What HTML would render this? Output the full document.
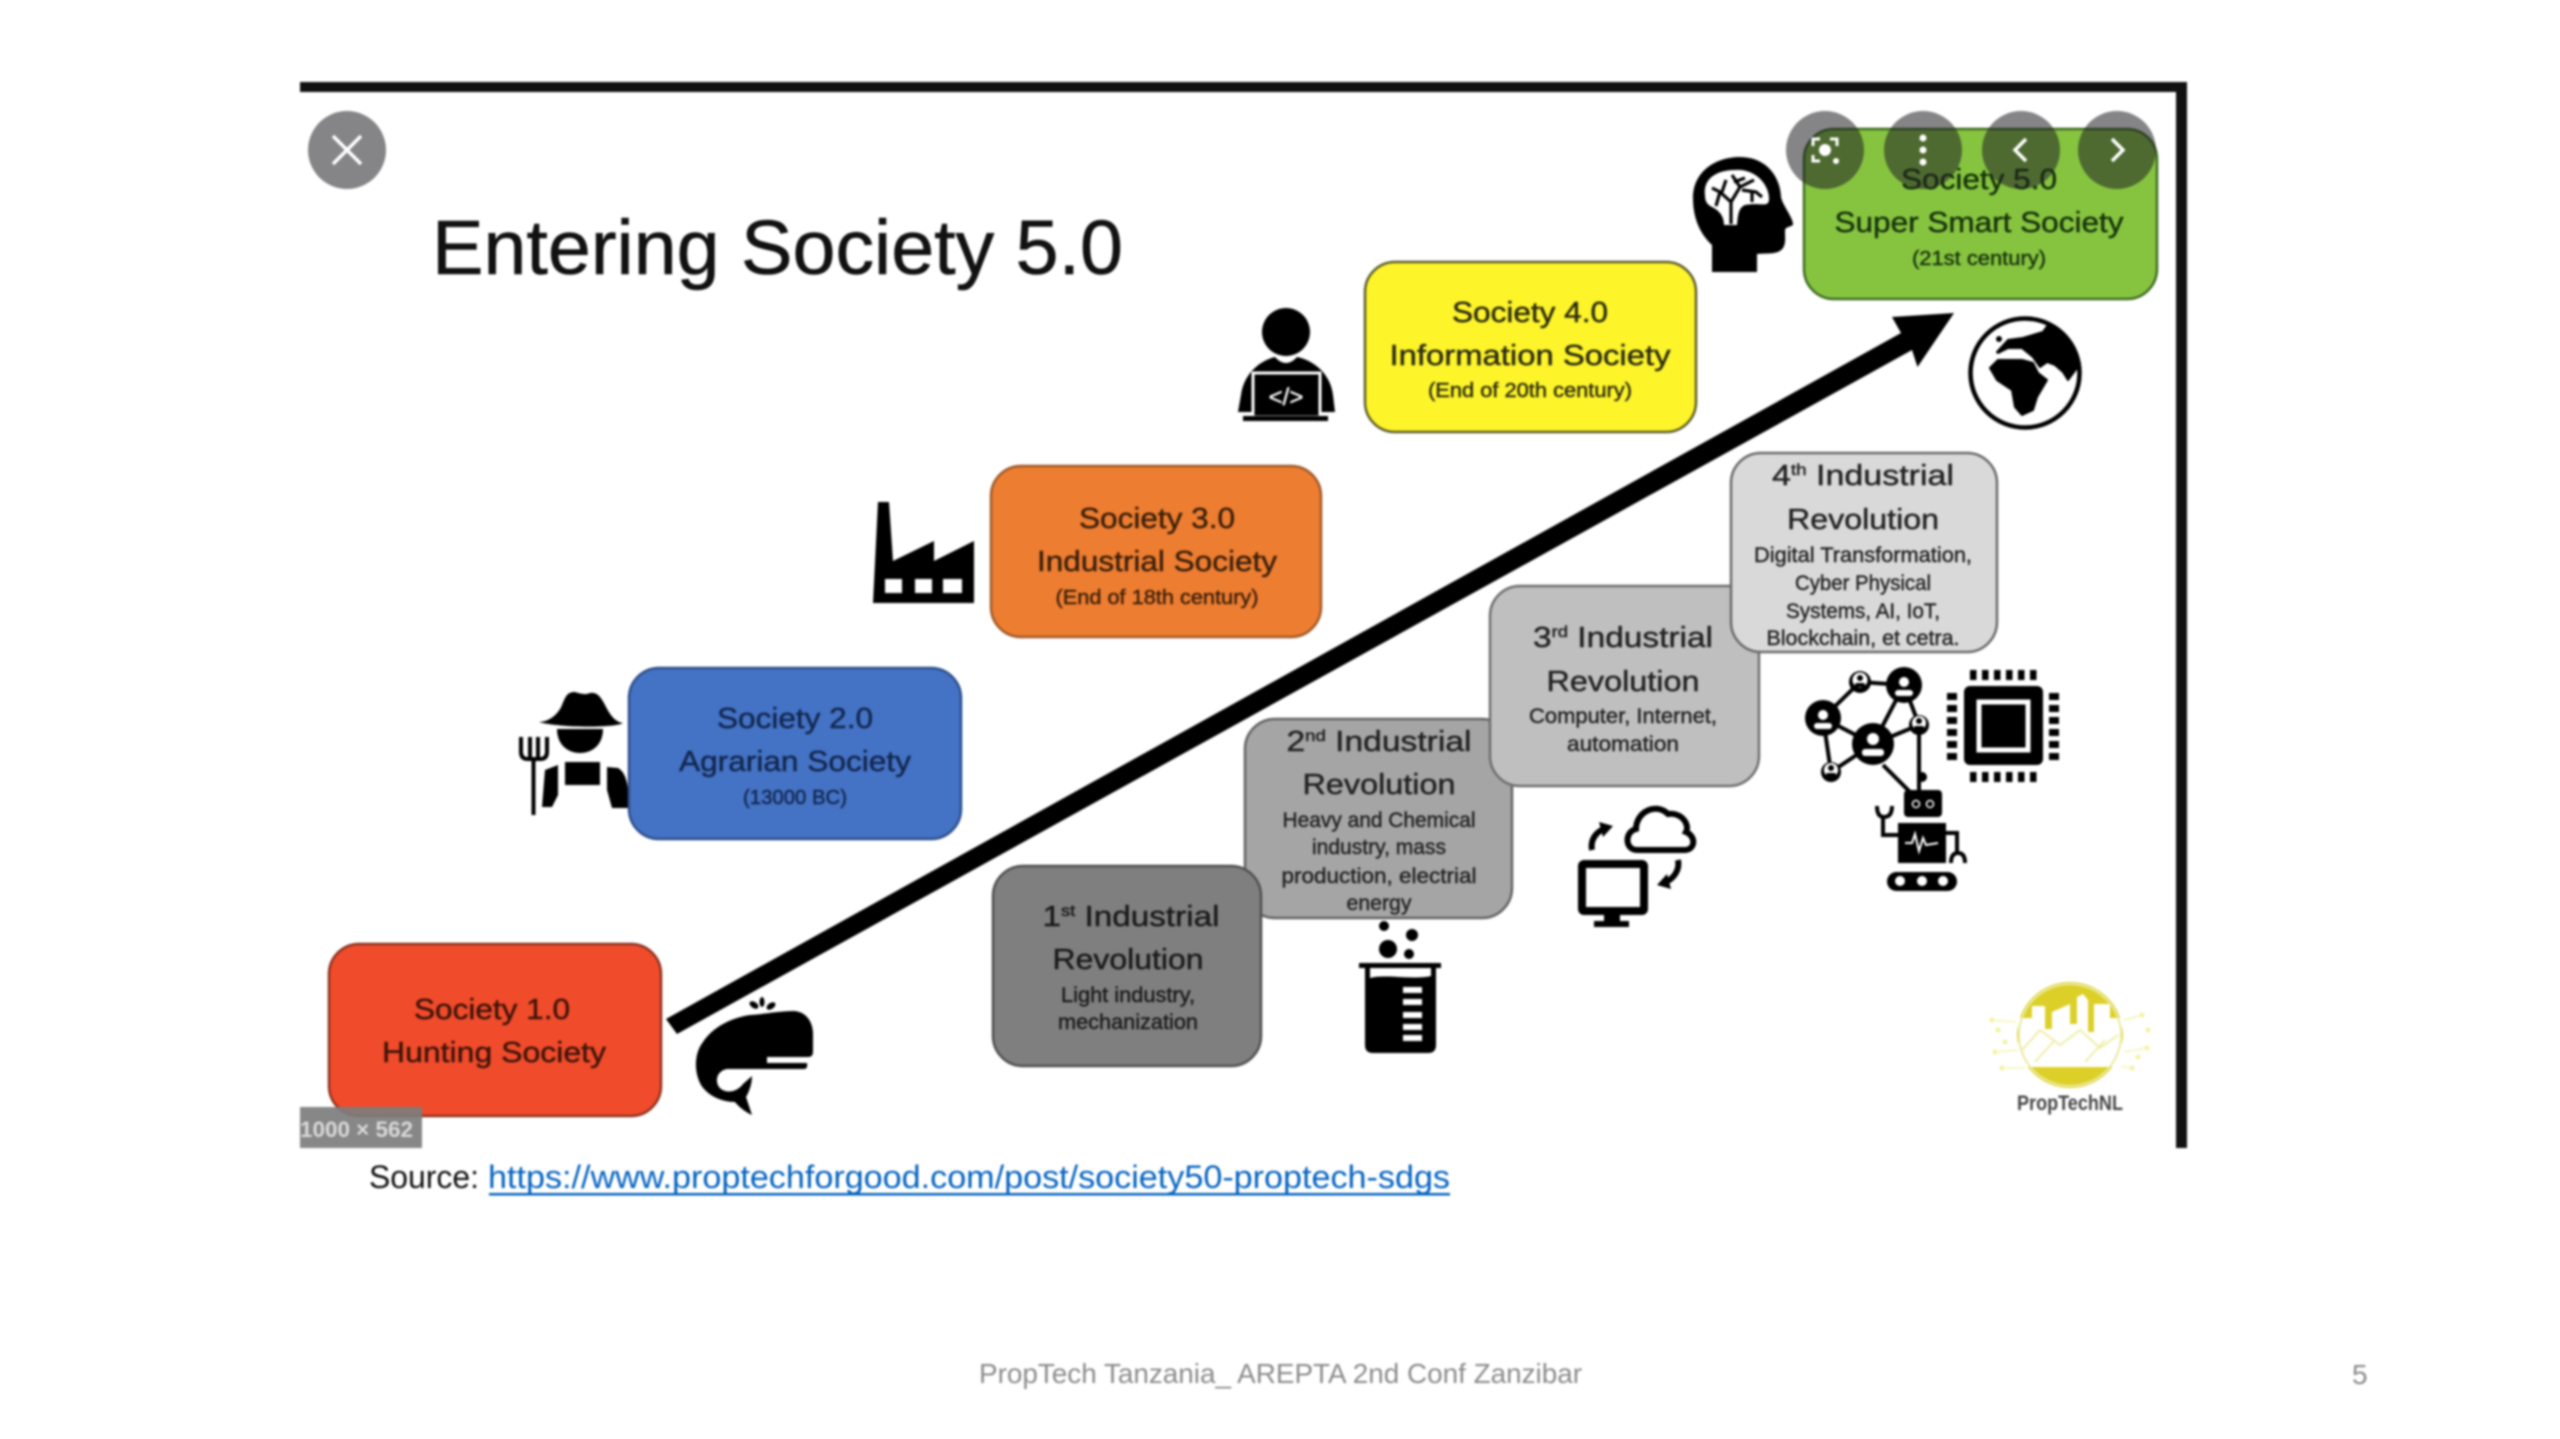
<!DOCTYPE html>
<html lang="en">
<head>
<meta charset="utf-8">
<title>Entering Society 5.0</title>
<style>
html,body{margin:0;padding:0;background:#fff;width:2560px;height:1439px;overflow:hidden}
svg{display:block;position:absolute;left:0;top:0;filter:blur(1.1px)}
text{font-family:"Liberation Sans",sans-serif}
.m{font-size:29px;text-anchor:middle;stroke-width:.45px}
.s{font-size:21px;text-anchor:middle;stroke-width:.4px}
.t{font-size:20px;text-anchor:middle;stroke-width:.4px}
</style>
</head>
<body>
<svg width="2560" height="1439" viewBox="0 0 2560 1439" xmlns="http://www.w3.org/2000/svg">
<rect width="2560" height="1439" fill="#fff"/>

<!-- frame -->
<rect x="300" y="82" width="1887" height="10" fill="#111"/>
<rect x="2176" y="82" width="11" height="1066" fill="#111"/>

<!-- title -->
<text x="432" y="274" font-size="77" fill="#111" stroke="#111" stroke-width=".6" textLength="691" lengthAdjust="spacingAndGlyphs">Entering Society 5.0</text>

<!-- arrow -->
<polygon points="666,1019 677,1034 1912,350 1917.5,367 1954,313 1892,317 1901,333" fill="#000"/>

<!-- farmer icon -->
<g fill="#000">
<path d="M539 722C548 722 558 715 562 705C566 695 568 692 575 692C582 694 585 695 590 693C596 692 600 695 605 705C610 715 615 722 623 723C615 728 560 728 539 722Z"/>
<path d="M557 729L603 729C603 745 592 753 580 753C568 753 557 745 557 729Z"/>
<rect x="565" y="762" width="35" height="23"/>
<path d="M545 770L558 765L558 795L552 807L542 807Z"/>
<path d="M607 767L618 768C625 772 629 782 629 808L612 808L607 790Z"/>
</g>
<path d="M521 737V752Q521 759 528 759H540Q547 759 547 752V737M530 737V759M538 737V759M533.500 759V815" fill="none" stroke="#000" stroke-width="4"/>

<!-- factory -->
<polygon points="873,603 878,502 889,502 893,561 934,541 934,561 974,541 974,603" fill="#000"/>
<g fill="#fff"><rect x="885" y="579" width="17" height="14"/><rect x="915" y="579" width="17" height="14"/><rect x="943" y="579" width="19" height="14"/></g>

<!-- coder -->
<circle cx="1286" cy="332" r="24" fill="#000"/>
<path d="M1238 412L1241 395C1244 372 1262 360 1275 357C1282 365 1290 365 1297 357C1312 360 1330 372 1333 395L1335 412Z" fill="#000"/>
<rect x="1253" y="373" width="67" height="44" fill="#000" stroke="#fff" stroke-width="3"/>
<rect x="1243" y="416" width="85" height="5" fill="#000"/>
<text x="1286" y="405" font-size="24" fill="#fff" stroke="#fff" stroke-width=".4" text-anchor="middle">&lt;/&gt;</text>

<!-- brain head -->
<path d="M1712 272L1712 245C1698 232 1693 215 1693 198C1693 172 1715 157 1740 157C1765 157 1780 175 1781 197C1782 204 1793 218 1793 224C1793 227 1786 226 1785 230C1785 238 1786 243 1783 248C1778 255 1768 253 1757 254L1757 272Z" fill="#000"/>
<path d="M1705 195C1703 175 1722 170 1735 170C1755 168 1770 185 1769 200C1768 208 1760 202 1745 205C1738 208 1738 216 1737 225L1724 225C1724 215 1718 210 1712 207C1706 204 1705 200 1705 195Z" fill="#fff"/>
<path d="M1731 224L1731 202L1720 192L1712 188M1731 202L1740 187L1754 180M1740 187L1732 175M1742 190L1756 192L1762 197M1722 192L1726 180M1720 192L1716 206M1745 178L1734 182M1752 192L1752 202" fill="none" stroke="#000" stroke-width="3.200"/>

<!-- globe -->
<circle cx="2025" cy="373" r="54.500" fill="#fff" stroke="#000" stroke-width="4.500"/>
<polygon points="1997,352 2008,340 2023,338 2043,332 2048,325 2065,337 2075,353 2077,368 2068,380 2063,372 2055,365 2047,362 2040,367 2033,357 2022,348 2008,348 1998,353" fill="#000" stroke="#000" stroke-width="2" stroke-linejoin="round"/>
<polygon points="1990,368 1998,360 2022,360 2033,363 2038,373 2047,380 2037,397 2033,410 2022,415 2015,407 2012,390 1997,380" fill="#000" stroke="#000" stroke-width="2" stroke-linejoin="round"/>
<circle cx="1999" cy="339" r="3" fill="#000"/>

<!-- whale -->
<path d="M793 1011C806 1011 813 1022 813 1034L813 1052Q813 1057 808 1057L767 1057L767 1063L807 1063Q808 1069 804 1069L727 1069C716 1071 714 1083 721 1089C728 1094 738 1091 743 1084L752 1076C752 1084 749 1092 746 1097L752 1115C745 1112 738 1106 735 1102C722 1102 708 1096 701 1085C693 1070 695 1052 703 1042C712 1028 730 1018 750 1015C765 1014 780 1011 793 1011Z" fill="#000"/>
<g fill="#000"><ellipse cx="754" cy="1005" rx="5" ry="3" transform="rotate(35 754 1005)"/><ellipse cx="762" cy="1002" rx="2.500" ry="5"/><ellipse cx="771" cy="1006" rx="5" ry="3" transform="rotate(-35 771 1006)"/></g>

<!-- boxes -->
<rect x="329" y="944" width="332" height="172" rx="30" fill="#f04b2b" stroke="#8e3320" stroke-width="2.500"/>
<rect x="629" y="668" width="332" height="171" rx="30" fill="#4472c4" stroke="#2d4f8c" stroke-width="2.500"/>
<rect x="991" y="466" width="330" height="171" rx="30" fill="#ed7d31" stroke="#a05a28" stroke-width="2.500"/>
<rect x="1365" y="262" width="331" height="170" rx="30" fill="#fdf42a" stroke="#5f5e2b" stroke-width="2.500"/>
<rect x="1804" y="129" width="353" height="170" rx="30" fill="#86c440" stroke="#3f6d22" stroke-width="2.500"/>
<rect x="1245" y="719" width="267" height="199" rx="30" fill="#a5a5a5" stroke="#636363" stroke-width="2.500"/>
<rect x="993" y="866" width="268" height="200" rx="30" fill="#7f7f7f" stroke="#505050" stroke-width="2.500"/>
<rect x="1490" y="586" width="269" height="200" rx="30" fill="#bfbfbf" stroke="#6e6e6e" stroke-width="2.500"/>
<rect x="1731" y="453" width="266" height="199" rx="30" fill="#d9d9d9" stroke="#6a6a6a" stroke-width="2.500"/>

<!-- society text -->
<g fill="#3d140a" stroke="#3d140a">
<text class="m" x="492" y="1019" textLength="156" lengthAdjust="spacingAndGlyphs">Society 1.0</text>
<text class="m" x="494" y="1062" textLength="224" lengthAdjust="spacingAndGlyphs">Hunting Society</text>
</g>
<g fill="#12274f" stroke="#12274f">
<text class="m" x="795" y="728" textLength="156" lengthAdjust="spacingAndGlyphs">Society 2.0</text>
<text class="m" x="795" y="771" textLength="232" lengthAdjust="spacingAndGlyphs">Agrarian Society</text>
<text class="t" x="795" y="804" textLength="104" lengthAdjust="spacingAndGlyphs">(13000 BC)</text>
</g>
<g fill="#3a1f0a" stroke="#3a1f0a">
<text class="m" x="1157" y="528" textLength="156" lengthAdjust="spacingAndGlyphs">Society 3.0</text>
<text class="m" x="1157" y="571" textLength="240" lengthAdjust="spacingAndGlyphs">Industrial Society</text>
<text class="t" x="1157" y="604" textLength="203" lengthAdjust="spacingAndGlyphs">(End of 18th century)</text>
</g>
<g fill="#2a2a12" stroke="#2a2a12">
<text class="m" x="1530" y="322" textLength="156" lengthAdjust="spacingAndGlyphs">Society 4.0</text>
<text class="m" x="1530" y="365" textLength="281" lengthAdjust="spacingAndGlyphs">Information Society</text>
<text class="t" x="1530" y="397" textLength="204" lengthAdjust="spacingAndGlyphs">(End of 20th century)</text>
</g>
<g fill="#17320c" stroke="#17320c">
<text class="m" x="1979" y="189" textLength="156" lengthAdjust="spacingAndGlyphs">Society 5.0</text>
<text class="m" x="1979" y="232" textLength="289" lengthAdjust="spacingAndGlyphs">Super Smart Society</text>
<text class="t" x="1979" y="265" textLength="134" lengthAdjust="spacingAndGlyphs">(21st century)</text>
</g>

<!-- industrial revolutions text -->
<g fill="#1a1a1a" stroke="#1a1a1a">
<text class="m" x="1131" y="926" textLength="177" lengthAdjust="spacingAndGlyphs">1<tspan dy="-10" font-size="16">st</tspan><tspan dy="10"> Industrial</tspan></text>
<text class="m" x="1128" y="969" textLength="151" lengthAdjust="spacingAndGlyphs">Revolution</text>
<text class="s" x="1128" y="1002" textLength="134" lengthAdjust="spacingAndGlyphs">Light industry,</text>
<text class="s" x="1128" y="1029" textLength="140" lengthAdjust="spacingAndGlyphs">mechanization</text>
</g>
<g fill="#222" stroke="#222">
<text class="m" x="1379" y="751" textLength="185" lengthAdjust="spacingAndGlyphs">2<tspan dy="-10" font-size="16">nd</tspan><tspan dy="10"> Industrial</tspan></text>
<text class="m" x="1379" y="794" textLength="153" lengthAdjust="spacingAndGlyphs">Revolution</text>
<text class="s" x="1379" y="827" textLength="193" lengthAdjust="spacingAndGlyphs">Heavy and Chemical</text>
<text class="s" x="1379" y="854" textLength="134" lengthAdjust="spacingAndGlyphs">industry, mass</text>
<text class="s" x="1379" y="883" textLength="195" lengthAdjust="spacingAndGlyphs">production, electrial</text>
<text class="s" x="1379" y="910" textLength="65" lengthAdjust="spacingAndGlyphs">energy</text>
</g>
<g fill="#222" stroke="#222">
<text class="m" x="1623" y="647" textLength="180" lengthAdjust="spacingAndGlyphs">3<tspan dy="-10" font-size="16">rd</tspan><tspan dy="10"> Industrial</tspan></text>
<text class="m" x="1623" y="691" textLength="153" lengthAdjust="spacingAndGlyphs">Revolution</text>
<text class="s" x="1623" y="723" textLength="188" lengthAdjust="spacingAndGlyphs">Computer, Internet,</text>
<text class="s" x="1623" y="751" textLength="112" lengthAdjust="spacingAndGlyphs">automation</text>
</g>
<g fill="#222" stroke="#222">
<text class="m" x="1863" y="485" textLength="182" lengthAdjust="spacingAndGlyphs">4<tspan dy="-10" font-size="16">th</tspan><tspan dy="10"> Industrial</tspan></text>
<text class="m" x="1863" y="529" textLength="152" lengthAdjust="spacingAndGlyphs">Revolution</text>
<text class="s" x="1863" y="562" textLength="218" lengthAdjust="spacingAndGlyphs">Digital Transformation,</text>
<text class="s" x="1863" y="590" textLength="136" lengthAdjust="spacingAndGlyphs">Cyber Physical</text>
<text class="s" x="1863" y="618" textLength="154" lengthAdjust="spacingAndGlyphs">Systems, AI, IoT,</text>
<text class="s" x="1863" y="645" textLength="193" lengthAdjust="spacingAndGlyphs">Blockchain, et cetra.</text>
</g>

<!-- beaker -->
<g fill="#000">
<circle cx="1384" cy="926" r="5"/><circle cx="1412" cy="935" r="6"/><circle cx="1388" cy="949" r="9"/><circle cx="1409" cy="954" r="5"/>
<rect x="1359" y="963" width="82" height="5"/>
<path d="M1365 968H1370V978C1385 974 1415 980 1431 976V968H1436V1045Q1436 1053 1428 1053H1373Q1365 1053 1365 1045Z"/>
</g>
<g fill="#fff"><rect x="1403" y="987" width="19" height="6"/><rect x="1403" y="999" width="19" height="6"/><rect x="1403" y="1012" width="19" height="6"/><rect x="1403" y="1024" width="19" height="6"/><rect x="1403" y="1035" width="19" height="6"/></g>

<!-- monitor + cloud -->
<rect x="1582" y="864" width="62" height="47" fill="#fff" stroke="#000" stroke-width="8" rx="2"/>
<rect x="1604" y="911" width="16" height="12" fill="#000"/>
<rect x="1594" y="921" width="35" height="6" fill="#000"/>
<path d="M1637 850C1625 850 1624 832 1636 829C1636 812 1656 802 1668 814C1682 812 1690 825 1686 832C1696 836 1696 850 1684 850Z" fill="#fff" stroke="#000" stroke-width="6"/>
<path d="M1592 850C1590 840 1596 832 1604 829" fill="none" stroke="#000" stroke-width="6"/>
<polygon points="1599,822 1613,826 1603,837" fill="#000"/>
<path d="M1678 860C1680 870 1674 878 1666 882" fill="none" stroke="#000" stroke-width="6"/>
<polygon points="1671,889 1657,885 1667,874" fill="#000"/>

<!-- network -->
<g fill="none" stroke="#000" stroke-width="4">
<path d="M1860 682L1904 685L1873 744L1823 718L1860 682M1904 685L1919 725L1873 744L1831 772L1823 718M1919 725V790M1883 765L1910 792"/>
</g>
<g fill="#000">
<circle cx="1904" cy="685" r="18"/><circle cx="1823" cy="718" r="18"/><circle cx="1873" cy="744" r="21"/>
<circle cx="1860" cy="682" r="11"/><circle cx="1919" cy="725" r="10"/><circle cx="1831" cy="772" r="10"/>
<circle cx="1922" cy="777" r="5"/>
</g>
<g fill="#fff">
<circle cx="1904" cy="682" r="5"/><rect x="1895" y="690" width="18" height="6" rx="3"/>
<circle cx="1823" cy="715" r="5"/><rect x="1814" y="723" width="18" height="6" rx="3"/>
<circle cx="1873" cy="739" r="6"/><rect x="1862" y="749" width="22" height="7" rx="3"/>
<circle cx="1860" cy="680" r="7.500"/><circle cx="1919" cy="723" r="7"/><circle cx="1831" cy="770" r="7"/>
</g>
<g fill="#000">
<circle cx="1860" cy="678" r="3"/><rect x="1855" y="683" width="10" height="4" rx="2"/>
<circle cx="1919" cy="721" r="3"/><rect x="1914" y="726" width="10" height="4" rx="2"/>
<circle cx="1831" cy="768" r="3"/><rect x="1826" y="773" width="10" height="4" rx="2"/>
</g>

<!-- robot -->
<rect x="1904" y="790" width="38" height="27" rx="4" fill="#000"/>
<circle cx="1916" cy="804" r="3.500" fill="none" stroke="#fff" stroke-width="1.500"/>
<circle cx="1930" cy="804" r="3.500" fill="none" stroke="#fff" stroke-width="1.500"/>
<rect x="1898" y="823" width="48" height="40" fill="#000"/>
<path d="M1905 843H1912L1915 834L1919 851L1923 838L1926 845L1938 843" fill="none" stroke="#fff" stroke-width="2"/>
<path d="M1898 835H1883V817M1877 806Q1877 817 1884 817Q1892 817 1892 806M1946 833H1957V853M1951 863Q1951 853 1958 853Q1965 853 1965 863" fill="none" stroke="#000" stroke-width="4"/>
<rect x="1887" y="872" width="70" height="19" rx="9.500" fill="#000"/>
<g fill="#fff"><circle cx="1900" cy="881" r="5"/><circle cx="1922" cy="881" r="5"/><circle cx="1943" cy="881" r="5"/></g>

<!-- chip -->
<rect x="1964" y="686" width="79" height="79" rx="6" fill="#000"/>
<rect x="1979" y="702" width="49" height="48" fill="#000" stroke="#fff" stroke-width="5"/>
<g fill="none" stroke="#000" stroke-width="10" stroke-dasharray="6.500 5.500">
<path d="M1970 675H2037M1970 777H2037"/>
<path d="M1952 693V760M2054 693V760" stroke-dasharray="7 5"/>
</g>

<!-- logo -->
<g fill="#f4f29b" stroke="none">
<circle cx="1992" cy="1020" r="2.500"/><circle cx="1998" cy="1030" r="2.500"/><circle cx="2005" cy="1042" r="2.500"/><circle cx="1995" cy="1052" r="2.500"/><circle cx="2002" cy="1068" r="2.500"/>
<circle cx="2142" cy="1015" r="2.500"/><circle cx="2148" cy="1030" r="2.500"/><circle cx="2147" cy="1048" r="2.500"/><circle cx="2138" cy="1057" r="2.500"/><circle cx="2132" cy="1068" r="2.500"/>
</g>
<path d="M1992 1020L2016 1022M1995 1052L2018 1050M2002 1068L2025 1068M2142 1015L2124 1020M2147 1048L2124 1052M2132 1068L2116 1066" stroke="#f6f5b5" stroke-width="1.500" fill="none"/>
<circle cx="2070" cy="1035" r="53" fill="#dcd028"/>
<rect x="2018" y="1018" width="104" height="49" fill="#fff"/>
<g fill="#fff">
<rect x="2032" y="1006" width="13" height="14"/>
<polygon points="2052,1012 2070,1004 2070,1022 2052,1022"/>
<polygon points="2077,997 2083,994 2088,1000 2088,1022 2077,1022"/>
<rect x="2094" y="1004" width="16" height="16"/>
</g>
<g fill="#dcd028"><rect x="2045" y="1015" width="7" height="14"/><rect x="2070" y="1015" width="7" height="9"/><rect x="2088" y="1015" width="6" height="17"/></g>
<circle cx="2070" cy="1035" r="51" fill="none" stroke="#eceaa0" stroke-width="2"/>
<path d="M2022 1050L2040 1030L2060 1045L2080 1030L2100 1048L2118 1035M2035 1062L2055 1040M2085 1062L2105 1040" fill="none" stroke="#f0eea8" stroke-width="2"/>
<text x="2070" y="1110" font-size="21" font-weight="bold" fill="#454545" text-anchor="middle" textLength="106" lengthAdjust="spacingAndGlyphs">PropTechNL</text>

<!-- viewer overlay buttons -->
<g fill="#202124" fill-opacity="0.55">
<circle cx="347" cy="150" r="39"/>
<circle cx="1825" cy="150" r="39"/><circle cx="1923" cy="150" r="39"/><circle cx="2021" cy="150" r="39"/><circle cx="2117" cy="150" r="39"/>
</g>
<g fill="none" stroke="#fff" stroke-width="3.500">
<path d="M333 136L361 164M361 136L333 164"/>
<path d="M1813 146V139H1820M1830 139H1837V146M1813 155V161H1820" stroke-width="3"/>
<path d="M2026 139L2015 150L2026 161M2112 139L2123 150L2112 161"/>
</g>
<g fill="#fff">
<circle cx="1825" cy="150" r="6"/><circle cx="1836" cy="161" r="3"/>
<circle cx="1923" cy="138" r="3.500"/><circle cx="1923" cy="150" r="3.500"/><circle cx="1923" cy="162" r="3.500"/>
</g>

<!-- size badge -->
<rect x="300" y="1107" width="122" height="41" fill="#7d7d7d" fill-opacity="0.92"/>
<text x="300" y="1137" font-size="22" font-weight="bold" fill="#d9d9d9" textLength="113" lengthAdjust="spacingAndGlyphs">1000 × 562</text>

<!-- source -->
<text x="369" y="1188" font-size="32" fill="#111" textLength="110" lengthAdjust="spacingAndGlyphs">Source:</text>
<text x="488" y="1188" font-size="32" fill="#0563c1" textLength="962" lengthAdjust="spacingAndGlyphs">https://www.proptechforgood.com/post/society50-proptech-sdgs</text>
<rect x="489" y="1193" width="961" height="2.500" fill="#0563c1"/>

<!-- footer -->
<text x="979" y="1383" font-size="28" fill="#8b8b8b" textLength="603" lengthAdjust="spacingAndGlyphs">PropTech Tanzania_ AREPTA 2nd Conf Zanzibar</text>
<text x="2352" y="1384" font-size="28" fill="#8b8b8b">5</text>
</svg>
</body>
</html>
